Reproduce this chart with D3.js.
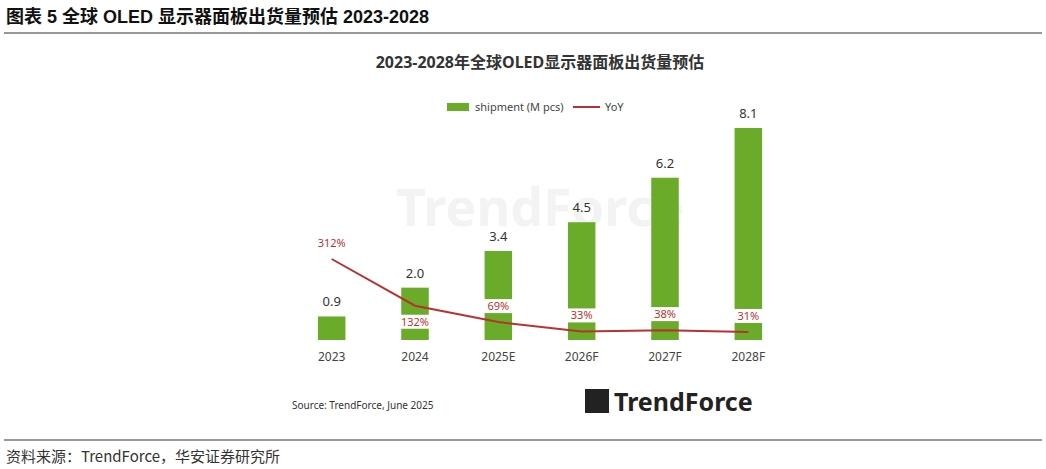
<!DOCTYPE html>
<html><head><meta charset="utf-8">
<script src="https://cdn.jsdelivr.net/npm/d3@7"></script>
<style>body{margin:0;background:#fff;font-family:"Noto Sans","Noto Sans CJK SC",sans-serif}</style>
</head><body><svg id="c" width="1046" height="469"></svg>
<script>
const categories = ["2023", "2024", "2025E", "2026F", "2027F", "2028F"];
const shipment = [0.9, 2.0, 3.4, 4.5, 6.2, 8.1];
const yoy = [312, 132, 69, 33, 38, 31];
const yoyLabelPos = ["above", "below", "above", "above", "above", "above"];

const svg = d3.select("#c");
const green = "#6aab2a", red = "#b83232";

// page header / footer
svg.append("text").attr("x", 6).attr("y", 23).attr("font-size", 18).attr("font-weight", "bold")
    .attr("font-family", "Liberation Sans, Noto Sans CJK SC").attr("fill", "#111")
    .text("图表 5 全球 OLED 显示器面板出货量预估 2023-2028");
svg.append("line").attr("x1", 4).attr("x2", 1042).attr("y1", 33).attr("y2", 33).attr("stroke", "#333").attr("stroke-width", 1.2);
svg.append("line").attr("x1", 4).attr("x2", 1042).attr("y1", 440).attr("y2", 440).attr("stroke", "#333").attr("stroke-width", 1);
svg.append("text").attr("x", 6).attr("y", 462).attr("font-size", 15).attr("fill", "#333")
    .attr("font-family", "Noto Sans CJK SC").text("资料来源：TrendForce，华安证券研究所");

// chart title
svg.append("text").attr("x", 540).attr("y", 68).attr("text-anchor", "middle").attr("font-size", 16)
    .attr("font-weight", "bold").attr("fill", "#333").text("2023-2028年全球OLED显示器面板出货量预估");

// watermark
svg.append("text").attr("x", 540).attr("y", 226).attr("text-anchor", "middle").attr("font-size", 52)
    .attr("font-weight", "bold").attr("fill", "#f3f3f3").text("TrendForce");

// legend
svg.append("rect").attr("x", 447).attr("y", 103).attr("width", 22).attr("height", 8).attr("fill", green);
svg.append("text").attr("x", 475).attr("y", 111).attr("font-size", 11).attr("fill", "#444").text("shipment (M pcs)");
svg.append("line").attr("x1", 573).attr("x2", 600).attr("y1", 107).attr("y2", 107).attr("stroke", red).attr("stroke-width", 2);
svg.append("text").attr("x", 605).attr("y", 111).attr("font-size", 11).attr("fill", "#444").text("YoY");

const x = d3.scaleBand().domain(categories).range([290, 790]).paddingInner(0.67).paddingOuter(0.335);
const y = d3.scaleLinear().domain([0, 8.1]).range([340, 128]);
const y2 = d3.scaleLinear().domain([0, 312]).range([340, 259]);
const cx = i => x(categories[i]) + x.bandwidth() / 2;

svg.selectAll(".bar").data(shipment).join("rect")
    .attr("x", (d, i) => x(categories[i])).attr("width", x.bandwidth())
    .attr("y", d => y(d)).attr("height", d => y(0) - y(d)).attr("fill", green);
svg.selectAll(".vl").data(shipment).join("text")
    .attr("x", (d, i) => cx(i)).attr("y", d => y(d) - 10)
    .attr("text-anchor", "middle").attr("font-size", 13).attr("fill", "#333").text(d => d.toFixed(1));

const xa = svg.append("g").attr("transform", "translate(0,340)").call(d3.axisBottom(x).tickSize(0).tickPadding(12));
xa.select(".domain").remove();
xa.selectAll("text").attr("font-size", 12).attr("fill", "#444").attr("font-family", "Noto Sans");

const line = d3.line().x((d, i) => cx(i)).y(d => y2(d));
svg.append("path").datum(yoy).attr("d", line).attr("fill", "none").attr("stroke", red).attr("stroke-width", 2);
const ly = (d, i) => yoyLabelPos[i] === "above" ? y2(d) - 12 : y2(d) + 20;
svg.selectAll(".yb").data(yoy).join("rect")
    .attr("x", (d, i) => cx(i) - 16).attr("y", (d, i) => ly(d, i) - 11)
    .attr("width", 32).attr("height", 14).attr("fill", "#fff");
svg.selectAll(".yl").data(yoy).join("text")
    .attr("x", (d, i) => cx(i)).attr("y", ly)
    .attr("text-anchor", "middle").attr("font-size", 11).attr("fill", red).text(d => d + "%");

// source + logo
svg.append("text").attr("x", 292).attr("y", 409).attr("font-size", 10).attr("fill", "#333").text("Source: TrendForce, June 2025");
svg.append("rect").attr("x", 585).attr("y", 389).attr("width", 24).attr("height", 24).attr("fill", "#222");
svg.append("text").attr("x", 614).attr("y", 411).attr("font-size", 25).attr("font-weight", "bold").attr("fill", "#222").text("TrendForce");
</script></body></html>
